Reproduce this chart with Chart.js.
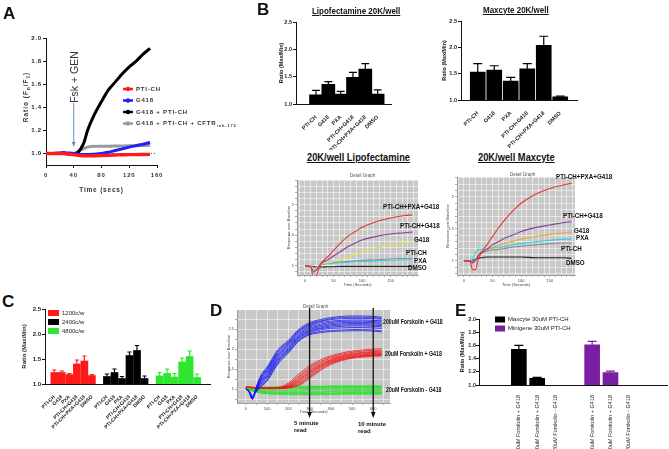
<!DOCTYPE html>
<html lang="en">
<head>
<meta charset="UTF-8">
<title>Figure</title>
<script src="https://cdn.jsdelivr.net/npm/chart.js"></script>
<style>
  body { margin: 0; background: #fff; }
  #fig { position: relative; width: 669px; height: 449px; overflow: hidden; font-family: Arial, "Liberation Sans", Helvetica, sans-serif; color: #111; }
  #fig canvas { position: absolute; z-index: 1; }
  .t { position: absolute; z-index: 2; white-space: nowrap; line-height: 1; }
  .big { font-size: 17px; font-weight: bold; }
  .ttl { font-weight: bold; text-decoration: underline; transform-origin: 0 0; }
  .lab { font-weight: bold; font-size: 8px; transform: scaleX(0.78); transform-origin: 0 0; }
  .dlab { font-weight: bold; font-size: 6.5px; transform: scaleX(0.8); transform-origin: 0 0; }
  .read { font-weight: bold; font-size: 6px; line-height: 7px; }
  .small { font-size: 4.5px; color: #555; }
</style>
</head>
<body>
<div id="fig">
  <div class="t big" style="left:3px;top:5px">A</div>
  <div class="t big" style="left:257px;top:1px">B</div>
  <div class="t big" style="left:2px;top:293px">C</div>
  <div class="t big" style="left:210px;top:302px">D</div>
  <div class="t big" style="left:455px;top:302px">E</div>

  <div class="t" style="left:27px;top:97px;transform:translate(-50%,-50%) rotate(-90deg);font-size:6.5px;font-weight:bold;letter-spacing:1px;color:#333">Ratio (F<sub style="font-size:4.5px">n</sub>/F<sub style="font-size:4.5px">0</sub>)</div>
  <div class="t" style="left:74px;top:77px;transform:translate(-50%,-50%) rotate(-90deg);font-size:10.5px;color:#333">Fsk + GEN</div>

  <div class="t ttl" style="left:312px;top:6px;font-size:9.5px;transform:scaleX(0.84)">Lipofectamine 20K/well</div>
  <div class="t ttl" style="left:483px;top:5px;font-size:9.5px;transform:scaleX(0.84)">Maxcyte 20K/well</div>
  <div class="t ttl" style="left:307px;top:152px;font-size:11.5px;transform:scaleX(0.81)">20K/well Lipofectamine</div>
  <div class="t ttl" style="left:478px;top:152px;font-size:11.5px;transform:scaleX(0.81)">20K/well Maxcyte</div>

  <div class="t small" style="left:350px;top:174px">Detail Graph</div>
  <div class="t small" style="left:510px;top:173px">Detail Graph</div>
  <div class="t small" style="left:303px;top:305px">Detail Graph</div>

  <div class="t lab" style="left:383px;top:203px">PTI-CH+PXA+G418</div>
  <div class="t lab" style="left:400px;top:222px">PTI-CH+G418</div>
  <div class="t lab" style="left:414px;top:236px">G418</div>
  <div class="t lab" style="left:406px;top:249px">PTI-CH</div>
  <div class="t lab" style="left:414px;top:257px">PXA</div>
  <div class="t lab" style="left:408px;top:264px">DMSO</div>

  <div class="t lab" style="left:556px;top:173px">PTI-CH+PXA+G418</div>
  <div class="t lab" style="left:563px;top:212px">PTI-CH+G418</div>
  <div class="t lab" style="left:574px;top:227px">G418</div>
  <div class="t lab" style="left:576px;top:234px">PXA</div>
  <div class="t lab" style="left:561px;top:245px">PTI-CH</div>
  <div class="t lab" style="left:566px;top:259px">DMSO</div>

  <div class="t dlab" style="left:383px;top:319px">200uM Forskolin + G418</div>
  <div class="t dlab" style="left:385px;top:351px">20uM Forskolin + G418</div>
  <div class="t dlab" style="left:386px;top:387px">20uM Forskolin - G418</div>
  <div class="t read" style="left:294px;top:420px">5 minute<br>read</div>
  <div class="t read" style="left:358px;top:421px">10 minute<br>read</div>
</div>

<script>
// ---------- data ----------
// A: kinetics, ratio Fn/F0 vs time (s)
const timeA  = [0, 10, 20, 25, 30, 40, 45, 50, 55, 60, 70, 80, 90, 100, 110, 120, 130, 140, 150];
const ptiA   = [1.0, 1.0, 1.0, 1.0, 0.995, 0.99, 0.985, 0.982, 0.98, 0.979, 0.98, 0.982, 0.985, 0.987, 0.989, 0.99, 0.99, 0.991, 0.992];
const g418A  = [1.0, 1.0, 1.005, 1.008, 1.005, 1.0, 0.996, 0.992, 0.99, 0.99, 0.994, 1.0, 1.01, 1.025, 1.04, 1.055, 1.068, 1.08, 1.095];
const comboA = [1.0, 1.0, 1.0, 1.0, 1.0, 1.0, 1.005, 1.04, 1.1, 1.2, 1.34, 1.45, 1.55, 1.62, 1.69, 1.75, 1.8, 1.86, 1.91];
const inhA   = [1.0, 1.0, 1.0, 1.0, 1.0, 1.0, 1.01, 1.03, 1.045, 1.055, 1.062, 1.063, 1.063, 1.064, 1.065, 1.066, 1.067, 1.068, 1.07];
const baseT  = [0, 160];
const baseV  = [1.0, 1.0];
const ticksAY = [1.0, 1.2, 1.4, 1.6, 1.8, 2.0];

// B: bar charts
const treatments = ['PTI-CH', 'G418', 'PXA', 'PTI-CH+G418', 'PTI-CH+PXA+G418', 'DMSO'];
const lipoMean = [1.17, 1.36, 1.18, 1.49, 1.64, 1.18];
const lipoErr  = [0.08, 0.05, 0.05, 0.09, 0.10, 0.08];
const maxMean  = [1.53, 1.57, 1.36, 1.59, 2.04, 1.06];
const maxErr   = [0.16, 0.08, 0.07, 0.10, 0.17, 0.015];
const ticksRatio = [1.0, 1.5, 2.0, 2.5];

// B: traces (response over baseline vs time)
const timeB = [0, 10, 15, 20, 25, 30, 40, 50, 60, 75, 90, 100, 125, 150, 175, 188];
const lipoRed    = [1.0, 0.98, 0.80, 0.84, 0.98, 1.06, 1.15, 1.25, 1.35, 1.48, 1.57, 1.63, 1.72, 1.78, 1.82, 1.83];
const lipoPurple = [1.0, 0.99, 0.90, 0.93, 1.0, 1.05, 1.10, 1.16, 1.22, 1.31, 1.38, 1.42, 1.48, 1.52, 1.54, 1.55];
const lipoYellow = [1.0, 1.0, 0.95, 0.96, 1.0, 1.03, 1.05, 1.07, 1.10, 1.14, 1.19, 1.22, 1.29, 1.34, 1.37, 1.38];
const lipoGray   = [1.0, 1.0, 0.97, 0.98, 1.0, 1.02, 1.04, 1.05, 1.06, 1.07, 1.08, 1.09, 1.10, 1.11, 1.12, 1.12];
const lipoCyan   = [1.0, 1.0, 0.93, 0.95, 1.0, 1.03, 1.04, 1.045, 1.05, 1.06, 1.07, 1.07, 1.08, 1.09, 1.10, 1.10];
const lipoBlack  = [1.0, 1.0, 0.99, 0.98, 0.98, 0.98, 0.985, 0.985, 0.99, 0.99, 0.99, 0.99, 0.99, 0.99, 0.99, 0.99];
const maxRed     = [1.0, 1.0, 0.87, 0.86, 1.02, 1.12, 1.25, 1.38, 1.51, 1.68, 1.82, 1.9, 2.04, 2.13, 2.19, 2.21];
const maxPurple  = [1.0, 1.0, 0.97, 1.0, 1.08, 1.13, 1.18, 1.25, 1.30, 1.37, 1.42, 1.46, 1.52, 1.56, 1.6, 1.61];
const maxOrange  = [1.0, 1.0, 0.97, 1.0, 1.1, 1.14, 1.17, 1.21, 1.24, 1.28, 1.32, 1.34, 1.38, 1.41, 1.44, 1.45];
const maxCyan    = [1.0, 1.0, 1.02, 1.12, 1.18, 1.18, 1.19, 1.2, 1.21, 1.23, 1.26, 1.27, 1.3, 1.32, 1.34, 1.34];
const maxGray    = [1.0, 1.0, 0.99, 1.02, 1.08, 1.12, 1.15, 1.17, 1.18, 1.2, 1.22, 1.23, 1.25, 1.27, 1.28, 1.28];
const maxBlack   = [1.0, 1.0, 1.01, 1.02, 1.04, 1.05, 1.06, 1.06, 1.06, 1.06, 1.06, 1.06, 1.05, 1.05, 1.05, 1.04];

// C: cell density
const densities = ['1200c/w', '2400c/w', '4800c/w'];
const c1200Mean = [1.23, 1.23, 1.19, 1.40, 1.46, 1.17];
const c1200Err  = [0.05, 0.03, 0.02, 0.08, 0.10, 0.02];
const c2400Mean = [1.15, 1.23, 1.11, 1.57, 1.67, 1.11];
const c2400Err  = [0.05, 0.07, 0.04, 0.07, 0.10, 0.05];
const c4800Mean = [1.16, 1.21, 1.14, 1.44, 1.55, 1.13];
const c4800Err  = [0.07, 0.09, 0.07, 0.08, 0.11, 0.07];

// D: forskolin traces
const timeD = [0, 15, 30, 45, 60, 80, 100, 150, 200, 250, 300, 350, 400, 450, 500, 550, 600, 640];
const fsk200G418 = [
  [1.00, 0.92, 0.74, 0.98, 1.22, 1.42, 1.55, 1.98, 2.22, 2.50, 2.66, 2.74, 2.79, 2.82, 2.83, 2.83, 2.82, 2.80],
  [1.00, 0.92, 0.75, 0.97, 1.20, 1.39, 1.52, 1.95, 2.19, 2.47, 2.63, 2.71, 2.76, 2.79, 2.80, 2.80, 2.79, 2.77],
  [1.00, 0.93, 0.75, 0.97, 1.18, 1.36, 1.49, 1.91, 2.16, 2.45, 2.61, 2.69, 2.74, 2.76, 2.77, 2.77, 2.76, 2.75],
  [1.00, 0.93, 0.76, 0.96, 1.16, 1.33, 1.46, 1.88, 2.13, 2.42, 2.58, 2.66, 2.70, 2.72, 2.73, 2.73, 2.72, 2.71],
  [1.00, 0.93, 0.77, 0.95, 1.14, 1.31, 1.43, 1.85, 2.10, 2.39, 2.55, 2.62, 2.67, 2.69, 2.70, 2.70, 2.69, 2.68],
  [1.00, 0.94, 0.77, 0.94, 1.12, 1.28, 1.39, 1.82, 2.07, 2.36, 2.52, 2.59, 2.64, 2.66, 2.67, 2.67, 2.66, 2.65],
  [1.00, 0.94, 0.78, 0.94, 1.10, 1.25, 1.36, 1.78, 2.04, 2.33, 2.49, 2.56, 2.61, 2.63, 2.64, 2.64, 2.63, 2.62],
  [1.00, 0.94, 0.79, 0.93, 1.08, 1.22, 1.33, 1.75, 2.01, 2.30, 2.46, 2.53, 2.58, 2.60, 2.61, 2.61, 2.60, 2.59],
  [1.00, 0.95, 0.80, 0.92, 1.06, 1.19, 1.30, 1.72, 1.99, 2.28, 2.44, 2.51, 2.55, 2.57, 2.58, 2.58, 2.57, 2.56],
  [1.00, 0.95, 0.80, 0.92, 1.05, 1.16, 1.27, 1.69, 1.96, 2.25, 2.41, 2.48, 2.52, 2.53, 2.54, 2.54, 2.53, 2.52],
  [1.00, 0.95, 0.81, 0.91, 1.02, 1.13, 1.23, 1.65, 1.93, 2.22, 2.38, 2.44, 2.47, 2.48, 2.49, 2.49, 2.48, 2.46],
  [1.00, 0.96, 0.82, 0.90, 1.00, 1.10, 1.20, 1.62, 1.90, 2.20, 2.36, 2.41, 2.44, 2.45, 2.46, 2.46, 2.45, 2.43]
];
const fsk20G418 = [
  [1.05, 1.05, 1.04, 1.04, 1.04, 1.03, 1.03, 1.04, 1.15, 1.38, 1.58, 1.73, 1.83, 1.90, 1.95, 1.98, 2.00, 2.01],
  [1.04, 1.05, 1.04, 1.03, 1.03, 1.03, 1.03, 1.03, 1.12, 1.33, 1.54, 1.69, 1.80, 1.87, 1.92, 1.95, 1.97, 1.98],
  [1.05, 1.04, 1.04, 1.04, 1.03, 1.03, 1.02, 1.03, 1.10, 1.30, 1.50, 1.66, 1.77, 1.84, 1.89, 1.92, 1.94, 1.95],
  [1.04, 1.04, 1.03, 1.03, 1.03, 1.02, 1.02, 1.03, 1.08, 1.26, 1.46, 1.62, 1.74, 1.82, 1.87, 1.90, 1.92, 1.93],
  [1.05, 1.04, 1.04, 1.03, 1.03, 1.03, 1.02, 1.02, 1.07, 1.23, 1.43, 1.60, 1.72, 1.80, 1.85, 1.88, 1.90, 1.91],
  [1.04, 1.04, 1.04, 1.03, 1.02, 1.02, 1.02, 1.02, 1.06, 1.20, 1.40, 1.57, 1.70, 1.78, 1.83, 1.86, 1.88, 1.89],
  [1.05, 1.05, 1.04, 1.03, 1.03, 1.02, 1.02, 1.02, 1.05, 1.17, 1.37, 1.55, 1.68, 1.76, 1.81, 1.84, 1.86, 1.87],
  [1.04, 1.04, 1.03, 1.03, 1.02, 1.02, 1.02, 1.02, 1.04, 1.14, 1.33, 1.52, 1.66, 1.74, 1.80, 1.83, 1.85, 1.86],
  [1.05, 1.04, 1.04, 1.03, 1.03, 1.02, 1.01, 1.01, 1.03, 1.11, 1.30, 1.49, 1.64, 1.73, 1.79, 1.82, 1.84, 1.85],
  [1.04, 1.04, 1.03, 1.03, 1.02, 1.02, 1.01, 1.01, 1.03, 1.09, 1.27, 1.46, 1.61, 1.71, 1.77, 1.80, 1.82, 1.83]
];
const fsk20NoG418 = [
  [1.00, 1.02, 1.03, 1.04, 1.05, 1.05, 1.05, 1.06, 1.06, 1.07, 1.07, 1.07, 1.08, 1.08, 1.08, 1.08, 1.08, 1.08],
  [1.00, 1.01, 1.02, 1.03, 1.03, 1.04, 1.04, 1.04, 1.05, 1.05, 1.05, 1.06, 1.06, 1.06, 1.06, 1.06, 1.06, 1.06],
  [1.00, 1.01, 1.01, 1.02, 1.02, 1.02, 1.02, 1.03, 1.03, 1.03, 1.04, 1.04, 1.04, 1.04, 1.04, 1.04, 1.04, 1.04],
  [1.00, 1.00, 1.00, 1.00, 1.00, 1.00, 1.00, 1.01, 1.01, 1.01, 1.01, 1.02, 1.02, 1.02, 1.02, 1.02, 1.02, 1.02],
  [1.00, 1.00, 0.99, 0.99, 0.98, 0.98, 0.98, 0.98, 0.98, 0.98, 0.99, 0.99, 0.99, 0.99, 0.99, 0.99, 0.99, 0.99],
  [1.00, 0.99, 0.98, 0.97, 0.96, 0.96, 0.95, 0.95, 0.95, 0.95, 0.95, 0.95, 0.95, 0.96, 0.96, 0.96, 0.96, 0.96],
  [1.00, 0.99, 0.97, 0.96, 0.95, 0.94, 0.93, 0.92, 0.92, 0.92, 0.92, 0.92, 0.93, 0.93, 0.93, 0.93, 0.93, 0.93],
  [1.00, 0.99, 0.97, 0.95, 0.93, 0.92, 0.91, 0.90, 0.90, 0.90, 0.90, 0.90, 0.90, 0.91, 0.91, 0.91, 0.91, 0.91],
  [1.00, 0.98, 0.96, 0.94, 0.92, 0.90, 0.89, 0.88, 0.88, 0.88, 0.88, 0.88, 0.88, 0.88, 0.89, 0.89, 0.89, 0.89],
  [1.00, 0.98, 0.95, 0.93, 0.91, 0.89, 0.88, 0.87, 0.86, 0.86, 0.86, 0.86, 0.86, 0.87, 0.87, 0.87, 0.87, 0.87]
];
const readTimes = [300, 600];

// E: Maxcyte vs minigene
const conditionsE = ['200uM Forskolin + G418', '20uM Forskolin + G418', '20uM Forskolin - G418'];
const maxcyteE    = [1.54, 1.10, null];
const maxcyteEErr = [0.06, 0.015, null];
const minigeneE   = [1.61, 1.19, null];
const minigeneEErr = [0.05, 0.02, null];
const ticksE = [1.0, 1.2, 1.4, 1.6, 1.8, 2.0];

// ---------- helpers ----------
const FONT = 'Arial, "Liberation Sans", Helvetica, sans-serif';
Chart.defaults.font.family = FONT;
Chart.defaults.color = '#222';
Chart.defaults.elements.point.radius = 0;

const fig = document.getElementById('fig');
const pairs = (xs, ys) => xs.map((x, i) => ({ x: x, y: ys[i] }));

function place(box, area, cfg, plugins) {
  const c = document.createElement('canvas');
  c.width = box.w; c.height = box.h;
  Object.assign(c.style, { left: box.x + 'px', top: box.y + 'px', width: box.w + 'px', height: box.h + 'px' });
  fig.appendChild(c);
  const o = cfg.options;
  o.responsive = false;
  o.animation = false;
  o.devicePixelRatio = 1;
  o.layout = { autoPadding: false, padding: { left: 0, top: area.t - box.y, right: box.x + box.w - area.r, bottom: 0 } };
  o.scales.x.afterFit = s => { s.height = box.y + box.h - area.b; };
  o.scales.y.afterFit = s => { s.width = area.l - box.x; };
  o.plugins = Object.assign({ legend: { display: false }, tooltip: { enabled: false } }, o.plugins || {});
  cfg.plugins = plugins || [];
  return new Chart(c, cfg);
}

// GraphPad-like axes
function gpY(min, max, vals, dec, title, size, pad) {
  const fs = size || 6;
  return {
    type: 'linear', min: min, max: max,
    afterBuildTicks: s => { s.ticks = vals.map(v => ({ value: v })); },
    ticks: { font: { size: fs, weight: 'bold' }, color: '#222', padding: pad == null ? 1 : pad, callback: v => v.toFixed(dec) },
    grid: { drawOnChartArea: false, tickLength: 3, color: '#111', lineWidth: 1 },
    border: { color: '#111', width: 1 },
    title: { display: !!title, text: title || '', font: { size: fs, weight: 'bold' }, color: '#222', padding: 1 }
  };
}
function gpXcat(min, max, pos, names, rot, size, weight) {
  const lookup = new Map(pos.map((p, i) => [p, names[i]]));
  return {
    type: 'linear', min: min, max: max,
    afterBuildTicks: s => { s.ticks = pos.map(v => ({ value: v })); },
    ticks: { autoSkip: false, maxRotation: rot, minRotation: rot, padding: 2, font: { size: size, weight: weight }, color: '#222',
             callback: v => lookup.get(v) },
    grid: { display: false },
    border: { color: '#111', width: 1 }
  };
}
// plate-reader screenshot axes
function shotAxes(xmin, xmax, xstep, xlab, ymin, ymax, ystep, ylab, titlePad) {
  return {
    x: { type: 'linear', min: xmin, max: xmax,
      ticks: { stepSize: xstep, includeBounds: false, autoSkip: false, maxRotation: 0, font: { size: 4 }, color: '#444', padding: 1,
               callback: v => (Math.abs(v % xlab) < 1e-6 ? String(v) : '') },
      grid: { color: 'rgba(255,255,255,0.9)', lineWidth: 0.6, tickLength: 2, tickColor: '#777' },
      border: { color: '#8a8a8a', width: 0.8 },
      title: { display: true, text: 'Time (Seconds)', font: { size: 4 }, color: '#444', padding: { top: 0, bottom: titlePad } } },
    y: { type: 'linear', min: ymin, max: ymax,
      ticks: { stepSize: ystep, includeBounds: false, autoSkip: false, font: { size: 4 }, color: '#444', padding: 1,
               callback: v => (Math.abs(v / ylab - Math.round(v / ylab)) < 1e-6 ? String(Math.round(v / ylab) * ylab) : '') },
      grid: { color: 'rgba(255,255,255,0.9)', lineWidth: 0.6, tickLength: 2, tickColor: '#777' },
      border: { color: '#8a8a8a', width: 0.8 },
      title: { display: true, text: 'Response over Baseline', font: { size: 4 }, color: '#444', padding: 1 } }
  };
}

const errorBars = {
  id: 'errorBars',
  afterDatasetsDraw(chart) {
    const ctx = chart.ctx, ys = chart.scales.y;
    chart.data.datasets.forEach((ds, i) => {
      if (!ds.errors) return;
      chart.getDatasetMeta(i).data.forEach((bar, j) => {
        const e = ds.errors[j], v = ds.data[j].y;
        if (e == null || v == null) return;
        const top = ys.getPixelForValue(v + e), w = bar.width * 0.6;
        ctx.save();
        ctx.strokeStyle = ds.backgroundColor;
        ctx.lineWidth = 1.2;
        ctx.beginPath();
        ctx.moveTo(bar.x, bar.y); ctx.lineTo(bar.x, top);
        ctx.moveTo(bar.x - w / 2, top); ctx.lineTo(bar.x + w / 2, top);
        ctx.stroke();
        ctx.restore();
      });
    });
  }
};

function keyPlugin(k) {
  return {
    id: 'key',
    afterDraw(chart) {
      const ctx = chart.ctx;
      ctx.save();
      ctx.textBaseline = 'middle';
      ctx.textAlign = 'left';
      ctx.letterSpacing = k.spacing || '0px';
      let row = 0;
      chart.data.datasets.forEach(ds => {
        if (ds.noKey) return;
        const y = k.y + row * k.dy;
        row++;
        if (k.type === 'box') {
          ctx.fillStyle = ds.backgroundColor;
          ctx.fillRect(k.x, y - k.bh / 2, k.bw, k.bh);
        } else {
          ctx.strokeStyle = ds.borderColor; ctx.lineWidth = 2.5;
          ctx.beginPath(); ctx.moveTo(k.x, y); ctx.lineTo(k.x + k.bw, y); ctx.stroke();
          ctx.fillStyle = ds.borderColor;
          ctx.beginPath(); ctx.arc(k.x + k.bw / 2, y, 2.2, 0, Math.PI * 2); ctx.fill();
        }
        ctx.font = k.font; ctx.fillStyle = k.color;
        const tx = k.x + k.bw + k.gap;
        ctx.fillText(ds.label, tx, y);
        if (ds.sub) {
          const w = ctx.measureText(ds.label).width;
          ctx.font = k.subFont;
          ctx.fillText(ds.sub, tx + w + 0.5, y + 2.5);
        }
      });
      ctx.restore();
    }
  };
}

function arrowPlugin(list) {
  return {
    id: 'arrows',
    afterDraw(chart) {
      const ctx = chart.ctx, xs = chart.scales.x;
      list.forEach(a => {
        const x = xs.getPixelForValue(a.at);
        ctx.save();
        ctx.strokeStyle = a.color; ctx.fillStyle = a.color; ctx.lineWidth = a.width;
        ctx.beginPath(); ctx.moveTo(x, a.y0); ctx.lineTo(x, a.y1 - a.head); ctx.stroke();
        ctx.beginPath();
        ctx.moveTo(x - a.head / 2.6, a.y1 - a.head); ctx.lineTo(x + a.head / 2.6, a.y1 - a.head); ctx.lineTo(x, a.y1);
        ctx.closePath(); ctx.fill();
        ctx.restore();
      });
    }
  };
}

const shotBg = {
  id: 'shotBg',
  beforeDraw(chart) {
    const a = chart.chartArea, ctx = chart.ctx;
    ctx.save(); ctx.fillStyle = '#c8c8c8'; ctx.fillRect(a.left, a.top, a.width, a.height); ctx.restore();
  }
};
const spaced = { id: 'spaced', beforeDraw(chart) { chart.ctx.letterSpacing = '0.8px'; } };

// ---------- A ----------
place({ x: 0, y: 0, w: 245, h: 200 }, { l: 46, t: 38, r: 157, b: 165 }, {
  type: 'line',
  data: { datasets: [
    { label: 'PTI-CH', data: pairs(timeA, ptiA), borderColor: '#ff1a1a', borderWidth: 3.4 },
    { label: 'G418', data: pairs(timeA, g418A), borderColor: '#1f1fff', borderWidth: 3 },
    { label: 'G418 + PTI-CH', data: pairs(timeA, comboA), borderColor: '#000', borderWidth: 3 },
    { label: 'G418 + PTI-CH + CFTR', sub: 'inh-172', data: pairs(timeA, inhA), borderColor: '#9a9a9a', borderWidth: 3 },
    { label: 'baseline', noKey: true, data: pairs(baseT, baseV), borderColor: '#555', borderWidth: 1, borderDash: [1, 2] }
  ] },
  options: {
    elements: { line: { cubicInterpolationMode: 'monotone' } },
    scales: {
      x: { type: 'linear', min: 0, max: 160,
        ticks: { stepSize: 40, font: { size: 6, weight: 'bold' }, color: '#333', padding: 4 },
        grid: { drawOnChartArea: false, tickLength: 3, color: '#111' },
        border: { color: '#111', width: 1 },
        title: { display: true, text: 'Time (secs)', font: { size: 6.5, weight: 'bold' }, color: '#333', padding: { top: 0, bottom: 6 } } },
      y: gpY(0.9, 2.0, ticksAY, 1)
    }
  }
}, [spaced, keyPlugin({ x: 123, y: 89, dy: 11.5, bw: 10, gap: 3, font: 'bold 6px ' + FONT, subFont: 'bold 4px ' + FONT, color: '#333', spacing: '0.8px' }),
    arrowPlugin([{ at: 40, y0: 103, y1: 147, head: 5, width: 1, color: '#5b8fd0' }])]);

// ---------- B bars ----------
const posB = treatments.map((_, i) => i);
place({ x: 277, y: 0, w: 128, h: 150 }, { l: 296, t: 22, r: 391, b: 104 }, {
  type: 'bar',
  data: { datasets: [{ data: pairs(posB, lipoMean), errors: lipoErr, backgroundColor: '#000', barThickness: 13 }] },
  options: { scales: { x: gpXcat(-0.98, 5.44, posB, treatments, 45, 5.5, 'bold'), y: gpY(1.0, 2.5, ticksRatio, 1, 'Ratio (Max/Min)', 5.5) } }
}, [errorBars]);

place({ x: 440, y: 0, w: 145, h: 150 }, { l: 461, t: 21, r: 577, b: 100 }, {
  type: 'bar',
  data: { datasets: [{ data: pairs(posB, maxMean), errors: maxErr, backgroundColor: '#000', barThickness: 15 }] },
  options: { scales: { x: gpXcat(-0.43, 5.43, posB, treatments, 45, 5.5, 'bold'), y: gpY(1.0, 2.5, ticksRatio, 1, 'Ratio (Max/Min)', 5.5) } }
}, [errorBars]);

// ---------- B traces ----------
function traceSet(list) {
  return list.map(([vals, color]) => ({ data: pairs(timeB, vals), borderColor: color, borderWidth: 1.1 }));
}
place({ x: 285, y: 170, w: 135, h: 120 }, { l: 297, t: 180, r: 418, b: 275 }, {
  type: 'line',
  data: { datasets: traceSet([[lipoRed, '#e8332e'], [lipoPurple, '#8a3b9e'], [lipoYellow, '#e9e23c'],
                              [lipoCyan, '#2ed2dc'], [lipoGray, '#8c8c8c'], [lipoBlack, '#222']]) },
  options: { elements: { line: { cubicInterpolationMode: 'monotone' } }, scales: shotAxes(-14, 198, 10, 50, 0.85, 2.4, 0.1, 0.5, 2.6) }
}, [shotBg]);

place({ x: 444, y: 170, w: 135, h: 120 }, { l: 457, t: 177, r: 575, b: 275 }, {
  type: 'line',
  data: { datasets: traceSet([[maxRed, '#e8332e'], [maxPurple, '#8a3b9e'], [maxOrange, '#f2a23a'],
                              [maxCyan, '#2ed2dc'], [maxGray, '#8c8c8c'], [maxBlack, '#222']]) },
  options: { elements: { line: { cubicInterpolationMode: 'monotone' } }, scales: shotAxes(-12, 194, 10, 50, 0.78, 2.31, 0.1, 0.5, 2.6) }
}, [shotBg]);

// ---------- C ----------
const groupPos = g => treatments.map((_, i) => g * 7 + i);
const posC = [0, 1, 2].flatMap(groupPos);
const namesC = [0, 1, 2].flatMap(() => treatments);
place({ x: 20, y: 280, w: 200, h: 165 }, { l: 45, t: 309, r: 210, b: 384 }, {
  type: 'bar',
  data: { datasets: [
    { label: densities[0], data: pairs(groupPos(0), c1200Mean), errors: c1200Err, backgroundColor: '#ff1a1a', barThickness: 7, grouped: false },
    { label: densities[1], data: pairs(groupPos(1), c2400Mean), errors: c2400Err, backgroundColor: '#000', barThickness: 7, grouped: false },
    { label: densities[2], data: pairs(groupPos(2), c4800Mean), errors: c4800Err, backgroundColor: '#2ee62e', barThickness: 7, grouped: false }
  ] },
  options: { scales: { x: gpXcat(-0.63, 20.1, posC, namesC, 45, 5, 'bold'), y: gpY(1.0, 2.5, ticksRatio, 1, 'Ratio (Max/Min)') } }
}, [errorBars, keyPlugin({ type: 'box', x: 28, y: 33, dy: 9, bw: 11, bh: 6, gap: 3, font: '6px ' + FONT, color: '#222' })]);

// ---------- D ----------
const dSets = [];
fsk200G418.forEach(v => dSets.push({ data: pairs(timeD, v), borderColor: '#1c1cf0', borderWidth: 0.8 }));
fsk20G418.forEach(v => dSets.push({ data: pairs(timeD, v), borderColor: '#f01c1c', borderWidth: 0.8 }));
fsk20NoG418.forEach(v => dSets.push({ data: pairs(timeD, v), borderColor: '#22e022', borderWidth: 0.8 }));
place({ x: 225, y: 300, w: 220, h: 145 }, { l: 237, t: 310, r: 390, b: 403 }, {
  type: 'line',
  data: { datasets: dSets },
  options: { elements: { line: { cubicInterpolationMode: 'monotone' } }, scales: shotAxes(-42, 679, 50, 100, 0.65, 2.98, 0.25, 0.5, 31) }
}, [shotBg, arrowPlugin(readTimes.map(t => ({ at: t, y0: 8, y1: 118, head: 6, width: 1.3, color: '#111' })))]);

// ---------- E ----------
const posE1 = [0, 1, 2], posE2 = [4, 5, 6];
place({ x: 458, y: 300, w: 211, h: 149 }, { l: 479, t: 319, r: 667, b: 385 }, {
  type: 'bar',
  data: { datasets: [
    { label: 'Maxcyte 30uM PTI-CH', data: pairs(posE1, maxcyteE), errors: maxcyteEErr, backgroundColor: '#000', barThickness: 15, grouped: false },
    { label: 'Minigene 30uM PTI-CH', data: pairs(posE2, minigeneE), errors: minigeneEErr, backgroundColor: '#7b1fa2', barThickness: 15, grouped: false }
  ] },
  options: { scales: { x: gpXcat(-1.32, 7.23, posE1.concat(posE2), conditionsE.concat(conditionsE), 90, 5.5, 'normal'),
                       y: gpY(1.0, 2.0, ticksE, 1, 'Ratio (Max/Min)', 5.5, 0) } }
}, [errorBars, keyPlugin({ type: 'box', x: 37, y: 19.5, dy: 9, bw: 10, bh: 6, gap: 3, font: '6px ' + FONT, color: '#222' })]);
</script>
</body>
</html>
